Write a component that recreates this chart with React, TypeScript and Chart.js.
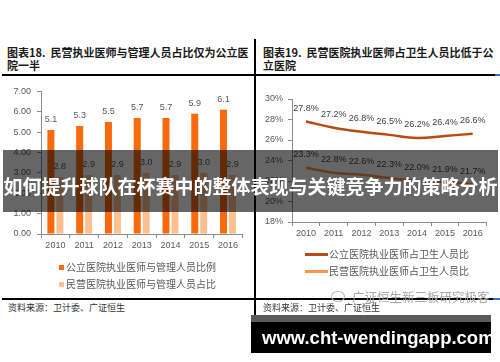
import React, { useEffect, useRef } from 'react';
import { Chart, registerables } from 'chart.js';

Chart.register(...registerables);

// ---- data ----
const years = ['2010', '2011', '2012', '2013', '2014', '2015', '2016'];
const publicRatio = [5.1, 5.3, 5.5, 5.7, 5.7, 5.9, 6.1];
const privateRatio = [2.8, 2.9, 2.9, 3.0, 2.9, 3.0, 2.9];
const publicShare = [27.8, 27.2, 26.8, 26.5, 26.2, 26.4, 26.6];
const privateShare = [23.3, 22.8, 22.6, 22.3, 22.0, 21.9, 21.7];
const leftSeriesNames = ['公立医院执业医师与管理人员比例', '民营医院执业医师与管理人员占比'];
const rightSeriesNames = ['公立医院执业医师占卫生人员比', '民营医院执业医师占卫生人员比'];
const leftTitle = ['图表18.  民营执业医师与管理人员占比仅为公立医', '院一半'];
const rightTitle = ['图表19.  民营医院执业医师占卫生人员比低于公', '立医院'];
const sourceText = '资料来源：卫计委、广证恒生';
const watermark = '广证恒生新三板研究极客';
const bannerText = '如何提升球队在杯赛中的整体表现与关键竞争力的策略分析';
const siteText = 'www.cht-wendingapp.com';

const ORANGE = '#F86A0C';
const LIGHT_ORANGE = '#FDC08E';
const DARK_LINE = '#B84A12';
const LIGHT_LINE = '#F7964A';
const TICK_COLOR = '#595959';
const AXIS_COLOR = '#8c8c8c';
const CJK = '"Noto Sans CJK SC", sans-serif';
const tickFont = { family: 'Liberation Sans', size: 9 };

const valueLabels = {
  id: 'valueLabels',
  afterDatasetsDraw(chart: any, _args: any, opts: any) {
    const { ctx } = chart;
    ctx.save();
    ctx.font = `${opts.size || 9}px "Liberation Sans"`;
    ctx.fillStyle = opts.color || '#404040';
    ctx.textAlign = 'center';
    ctx.textBaseline = 'middle';
    chart.data.datasets.forEach((ds: any, i: number) => {
      const meta = chart.getDatasetMeta(i);
      meta.data.forEach((el: any, j: number) => {
        const v = ds.data[j];
        ctx.fillText(opts.fmt(v), el.x, el.y - opts.offset);
      });
    });
    ctx.restore();
  },
};

function LeftChart() {
  const ref = useRef<HTMLCanvasElement>(null);
  useEffect(() => {
    const chart = new Chart(ref.current!, {
      type: 'bar',
      data: {
        labels: years,
        datasets: [
          { label: leftSeriesNames[0], data: publicRatio, backgroundColor: ORANGE, categoryPercentage: 0.624, barPercentage: 0.78 },
          { label: leftSeriesNames[1], data: privateRatio, backgroundColor: LIGHT_ORANGE, categoryPercentage: 0.624, barPercentage: 0.78 },
        ],
      },
      options: {
        animation: false,
        responsive: false,
        devicePixelRatio: 1,
        layout: { padding: { top: 8, right: 7.6, bottom: 0, left: 0 } },
        plugins: {
          legend: { display: false },
          tooltip: { enabled: false },
          valueLabels: { offset: 10.5, fmt: (v: number) => v.toFixed(1), color: '#595959', size: 9 },
        } as any,
        scales: {
          x: {
            grid: { offset: true, drawOnChartArea: false, tickLength: 4, color: AXIS_COLOR },
            border: { color: AXIS_COLOR },
            ticks: { font: tickFont, color: TICK_COLOR, padding: 2, maxRotation: 0 },
            afterFit: (s: any) => { s.height = 26; },
          },
          y: {
            min: 0,
            max: 7,
            ticks: { stepSize: 1, callback: (v: any) => Number(v).toFixed(2), font: tickFont, color: TICK_COLOR, padding: 6 },
            grid: { drawOnChartArea: false, tickLength: 4, color: AXIS_COLOR },
            border: { color: AXIS_COLOR },
            afterFit: (s: any) => { s.width = 41; },
          },
        },
      },
      plugins: [valueLabels],
    });
    return () => chart.destroy();
  }, []);
  return <canvas ref={ref} width={250} height={180} style={{ position: 'absolute', left: 0, top: 80, width: 250, height: 180 }} />;
}

function RightChart() {
  const ref = useRef<HTMLCanvasElement>(null);
  useEffect(() => {
    const chart = new Chart(ref.current!, {
      type: 'line',
      data: {
        labels: years,
        datasets: [
          { label: rightSeriesNames[0], data: publicShare, borderColor: DARK_LINE, borderWidth: 2.5, pointRadius: 0, tension: 0.4, fill: false },
          { label: rightSeriesNames[1], data: privateShare, borderColor: LIGHT_LINE, borderWidth: 2.5, pointRadius: 0, tension: 0.4, fill: false },
        ],
      },
      options: {
        animation: false,
        responsive: false,
        devicePixelRatio: 1,
        layout: { padding: { top: 19, right: 13.4, bottom: 0, left: 0 } },
        plugins: {
          legend: { display: false },
          tooltip: { enabled: false },
          valueLabels: { offset: 13, fmt: (v: number) => v.toFixed(1) + '%', color: '#404040', size: 9 },
        } as any,
        scales: {
          x: {
            offset: true,
            grid: { offset: true, drawOnChartArea: false, tickLength: 4, color: AXIS_COLOR },
            border: { color: AXIS_COLOR },
            ticks: { font: tickFont, color: TICK_COLOR, padding: 2, maxRotation: 0 },
            afterFit: (s: any) => { s.height = 26; },
          },
          y: {
            min: 18,
            max: 30,
            ticks: { stepSize: 2, callback: (v: any) => `${v}%`, font: tickFont, color: TICK_COLOR, padding: 5 },
            grid: { drawOnChartArea: false, tickLength: 4, color: AXIS_COLOR },
            border: { color: AXIS_COLOR },
            afterFit: (s: any) => { s.width = 36; },
          },
        },
      },
      plugins: [valueLabels],
    });
    return () => chart.destroy();
  }, []);
  return <canvas ref={ref} width={244} height={168} style={{ position: 'absolute', left: 256, top: 80, width: 244, height: 168 }} />;
}

const abs = (s: React.CSSProperties): React.CSSProperties => ({ position: 'absolute', ...s });

export default function App() {
  const titleStyle: React.CSSProperties = { fontFamily: CJK, fontSize: 11, fontWeight: 700, lineHeight: '13px', color: '#1a1a1a', whiteSpace: 'pre' };
  const legendText: React.CSSProperties = { fontFamily: CJK, fontSize: 10, lineHeight: '12px', color: '#595959', whiteSpace: 'nowrap' };
  const srcStyle: React.CSSProperties = { fontFamily: CJK, fontSize: 9, lineHeight: '11px', color: '#333', whiteSpace: 'nowrap' };
  return (
    <div style={{ position: 'absolute', left: 0, top: 0, width: 500, height: 362, background: '#fff', overflow: 'hidden' }}>
      {/* titles */}
      <div style={abs({ left: 7, top: 46, ...titleStyle })}>{leftTitle[0]}<br />{leftTitle[1]}</div>
      <div style={abs({ left: 263, top: 46, ...titleStyle })}>{rightTitle[0]}<br />{rightTitle[1]}</div>
      {/* rules */}
      <div style={abs({ left: 2, top: 74, width: 493, height: 2, background: '#000' })} />
      <div style={abs({ left: 495, top: 74, width: 5, height: 2, background: '#2E75B6' })} />
      <div style={abs({ left: 254, top: 39, width: 2, height: 276, background: '#000' })} />
      <div style={abs({ left: 2, top: 298, width: 491, height: 2, background: '#000' })} />
      <div style={abs({ left: 493, top: 298, width: 7, height: 2, background: '#2E75B6' })} />

      <LeftChart />
      <RightChart />

      {/* left legend */}
      <div style={abs({ left: 59, top: 265, width: 5, height: 5, background: ORANGE })} />
      <div style={abs({ left: 66, top: 261, ...legendText })}>{leftSeriesNames[0]}</div>
      <div style={abs({ left: 59, top: 282, width: 5, height: 5, background: LIGHT_ORANGE })} />
      <div style={abs({ left: 66, top: 278, ...legendText })}>{leftSeriesNames[1]}</div>
      {/* right legend */}
      <div style={abs({ left: 305, top: 253, width: 23, height: 3, background: DARK_LINE })} />
      <div style={abs({ left: 329, top: 248, ...legendText })}>{rightSeriesNames[0]}</div>
      <div style={abs({ left: 305, top: 270, width: 23, height: 3, background: LIGHT_LINE })} />
      <div style={abs({ left: 329, top: 265, ...legendText })}>{rightSeriesNames[1]}</div>

      {/* sources */}
      <div style={abs({ left: 8, top: 302, ...srcStyle })}>{sourceText}</div>
      <div style={abs({ left: 263, top: 302, ...srcStyle })}>{sourceText}</div>

      {/* watermark */}
      <div style={abs({ left: 331, top: 291, width: 14, height: 11, borderRadius: '50%', border: '1.5px solid #b5b5b5', boxSizing: 'border-box' })} />
      <div style={abs({ left: 352, top: 289, fontFamily: CJK, fontSize: 12.5, lineHeight: '15px', color: '#a8a8a8', whiteSpace: 'nowrap' })}>{watermark}</div>

      {/* overlay banner */}
      <div style={abs({ left: 3, top: 150, width: 495, height: 62, background: 'rgba(0,0,0,0.6)', zIndex: 10, boxSizing: 'border-box', paddingTop: 8, display: 'flex', alignItems: 'center', justifyContent: 'center', color: '#fff', fontFamily: CJK, fontWeight: 700, fontSize: 19, whiteSpace: 'nowrap' })}>{bannerText}</div>

      {/* bottom site banner */}
      <div style={abs({ left: 251, top: 315, width: 240, height: 7, background: '#5a5a5a', zIndex: 10 })} />
      <div style={abs({ left: 251, top: 322, width: 240, height: 31, background: '#000', zIndex: 10, boxSizing: 'border-box', paddingLeft: 11, display: 'flex', alignItems: 'center', color: '#fff', fontFamily: '"Liberation Sans", sans-serif', fontWeight: 700, fontSize: 18.5, whiteSpace: 'nowrap' })}>{siteText}</div>
    </div>
  );
}
